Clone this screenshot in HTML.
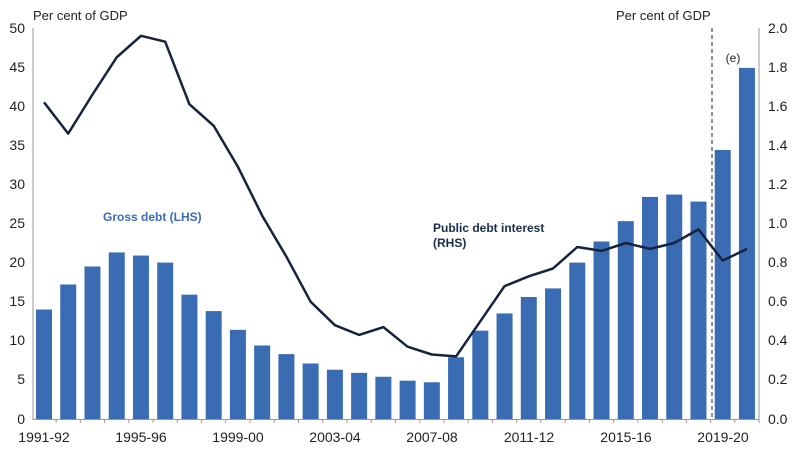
<!DOCTYPE html>
<html><head><meta charset="utf-8"><style>
html,body{margin:0;padding:0;background:#fff;}
svg{display:block;font-family:"Liberation Sans",Arial,sans-serif;}
</style></head><body>
<svg id="c" width="800" height="450" viewBox="0 0 800 450">
<g font-size="14" fill="#222">
<text x="33" y="20" font-size="13">Per cent of GDP</text>
<text x="616" y="20" font-size="13">Per cent of GDP</text>
<g text-anchor="end">
<text x="25" y="33">50</text><text x="25" y="72">45</text><text x="25" y="111">40</text>
<text x="25" y="150">35</text><text x="25" y="189">30</text><text x="25" y="228">25</text>
<text x="25" y="267">20</text><text x="25" y="306">15</text><text x="25" y="345">10</text>
<text x="25" y="384">5</text><text x="25" y="424">0</text>
</g>
<g text-anchor="start">
<text x="768" y="33">2.0</text><text x="768" y="72">1.8</text><text x="768" y="111">1.6</text>
<text x="768" y="150">1.4</text><text x="768" y="189">1.2</text><text x="768" y="228">1.0</text>
<text x="768" y="267">0.8</text><text x="768" y="306">0.6</text><text x="768" y="345">0.4</text>
<text x="768" y="384">0.2</text><text x="768" y="424">0.0</text>
</g>
<g text-anchor="middle">
<text x="44" y="442">1991-92</text><text x="141" y="442">1995-96</text><text x="238" y="442">1999-00</text>
<text x="335" y="442">2003-04</text><text x="432" y="442">2007-08</text><text x="529" y="442">2011-12</text>
<text x="626" y="442">2015-16</text><text x="723" y="442">2019-20</text>
</g>
<text x="733" y="62" text-anchor="middle" font-size="12">(e)</text>
<text x="103" y="221" font-size="12" font-weight="bold" fill="#3a6db5">Gross debt (LHS)</text>
<text x="433" y="232" font-size="12" font-weight="bold" fill="#1a2c4e">Public debt interest</text>
<text x="433" y="247" font-size="12" font-weight="bold" fill="#1a2c4e">(RHS)</text>
</g>
<g id="bars" fill="#3a6cb4"></g>
<line x1="33" y1="28" x2="33" y2="420" stroke="#999" stroke-width="1"/>
<line x1="759" y1="28" x2="759" y2="420" stroke="#999" stroke-width="1"/>
<line x1="33" y1="419.5" x2="759" y2="419.5" stroke="#999" stroke-width="1"/>
<g id="ticks" stroke="#999"></g>
<line x1="712" y1="28" x2="712" y2="419" stroke="#222" stroke-width="1" stroke-dasharray="4,3"/>
<polyline id="ln" fill="none" stroke="#15233f" stroke-width="2.5" stroke-linejoin="round"/>
</svg>
<script>
var b=[14,17.2,19.5,21.3,20.9,20,15.9,13.8,11.4,9.4,8.3,7.1,6.3,5.9,5.4,4.9,4.7,7.9,11.3,13.5,15.6,16.7,20,22.7,25.3,28.4,28.7,27.8,34.4,44.9];
var l=[1.62,1.46,1.66,1.85,1.96,1.93,1.61,1.50,1.29,1.04,0.83,0.60,0.48,0.43,0.47,0.37,0.33,0.32,0.50,0.68,0.73,0.77,0.88,0.86,0.90,0.87,0.90,0.97,0.81,0.87];
var p=[],ns='http://www.w3.org/2000/svg';
var g=document.getElementById('bars'),tk=document.getElementById('ticks');
for(var i=0;i<30;i++){var cx=44+i*24.24,h=b[i]*7.82;
var r=document.createElementNS(ns,'rect');r.setAttribute('x',cx-8);r.setAttribute('y',419-h);r.setAttribute('width',16);r.setAttribute('height',h);g.appendChild(r);
p.push(cx.toFixed(1)+','+(419-l[i]*195.5).toFixed(1));
var k=document.createElementNS(ns,'line');var tx=cx+12.12;k.setAttribute('x1',tx);k.setAttribute('x2',tx);k.setAttribute('y1',419);k.setAttribute('y2',423);tk.appendChild(k);}
document.getElementById('ln').setAttribute('points',p.join(' '));
</script>
</body></html>
